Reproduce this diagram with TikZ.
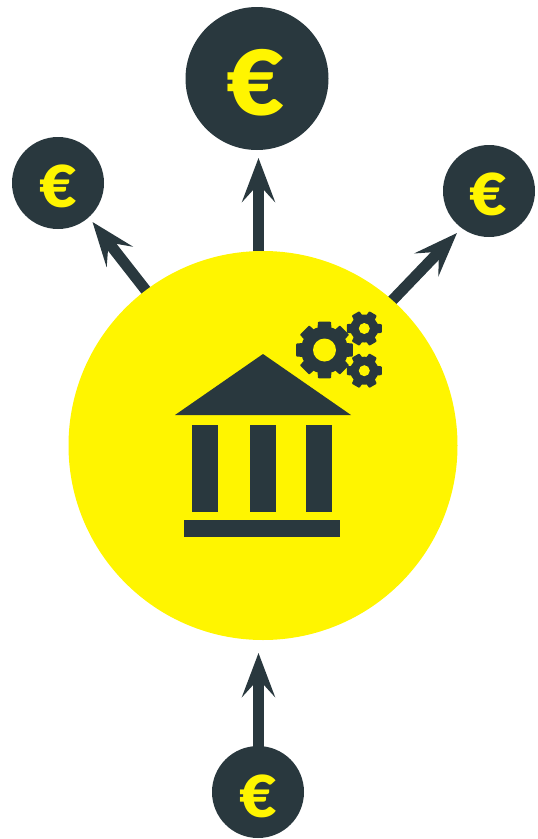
\documentclass[tikz,border=0pt]{standalone}
\usepackage{fontspec}
\setmainfont{Lato}[BoldFont={Lato Black},BoldFeatures={FakeStretch=1.12}]
\usetikzlibrary{arrows.meta}
\definecolor{ink}{HTML}{29383E}
\definecolor{sun}{HTML}{FFF500}
\tikzset{
  x=1pt,y=-1pt,
  hubnode/.style={circle,fill=sun,minimum size=389pt,inner sep=0pt},
  coinbig/.style={circle,fill=ink,minimum size=143pt,inner sep=0pt},
  coinsmall/.style={circle,fill=ink,minimum size=92pt,inner sep=0pt},
  eurobig/.style={text=sun,inner sep=0pt,font=\bfseries\fontsize{90}{90}\selectfont},
  eurosmall/.style={text=sun,inner sep=0pt,font=\bfseries\fontsize{58}{58}\selectfont},
  flow/.style={draw=ink,line width=11pt,-{Stealth[length=44pt,width=33pt,inset=18pt]}},
  bankpart/.style={fill=ink}
}
\newcommand{\gearshape}[8]{% x y outer root hole step halfouter halfroot
  \begin{scope}[shift={(#1,#2)}]
    \fill[ink] (0,0) circle[radius=#4];
    \foreach \a in {0,#6,...,359}{
      \fill[ink,rounded corners=0.8pt] (\a-#8:#4-1) -- (\a-#7:#3) -- (\a+#7:#3) -- (\a+#8:#4-1) -- cycle;
    }
    \fill[sun] (0,0) circle[radius=#5];
  \end{scope}
}
\begin{document}
\begin{tikzpicture}
\useasboundingbox (0,0) rectangle (538,839);
\coordinate (tT) at (258.5,262);
\coordinate (hT) at (258.5,158);
\coordinate (tR) at (385,308);
\coordinate (hR) at (457,233);
\coordinate (tL) at (155,302);
\coordinate (hL) at (92.5,222);
\coordinate (tB) at (258.5,760);
\coordinate (hB) at (258.5,653);
\draw[flow] (tT) -- (hT);
\draw[flow] (tR) -- (hR);
\draw[flow] (tL) -- (hL);
\draw[flow] (tB) -- (hB);
\node[hubnode] (hub) at (263,445.5) {};
\node[coinbig] (coinT) at (257,78.5) {};
\node[coinsmall] (coinL) at (58,183) {};
\node[coinsmall] (coinR) at (489,191) {};
\node[coinsmall] (coinB) at (258,792) {};
\node[eurobig] (euroT) at (256,83) {€};
\node[eurosmall] (euroL) at (58,186) {€};
\node[eurosmall] (euroR) at (488,194) {€};
\node[eurosmall] (euroB) at (258,796) {€};
\fill[bankpart] (263,354) -- (351,415) -- (175,415) -- cycle;
\fill[bankpart] (192,425) rectangle (218,512);
\fill[bankpart] (250,425) rectangle (276,512);
\fill[bankpart] (306,425) rectangle (332,512);
\fill[bankpart] (184,520) rectangle (340,537);
\gearshape{324.5}{350}{29}{23.5}{11.5}{45}{13}{18}
\gearshape{364.3}{328.5}{18}{14}{5.5}{60}{14}{22}
\gearshape{364.3}{370.7}{18}{14}{5.5}{60}{14}{22}
\end{tikzpicture}
\end{document}
